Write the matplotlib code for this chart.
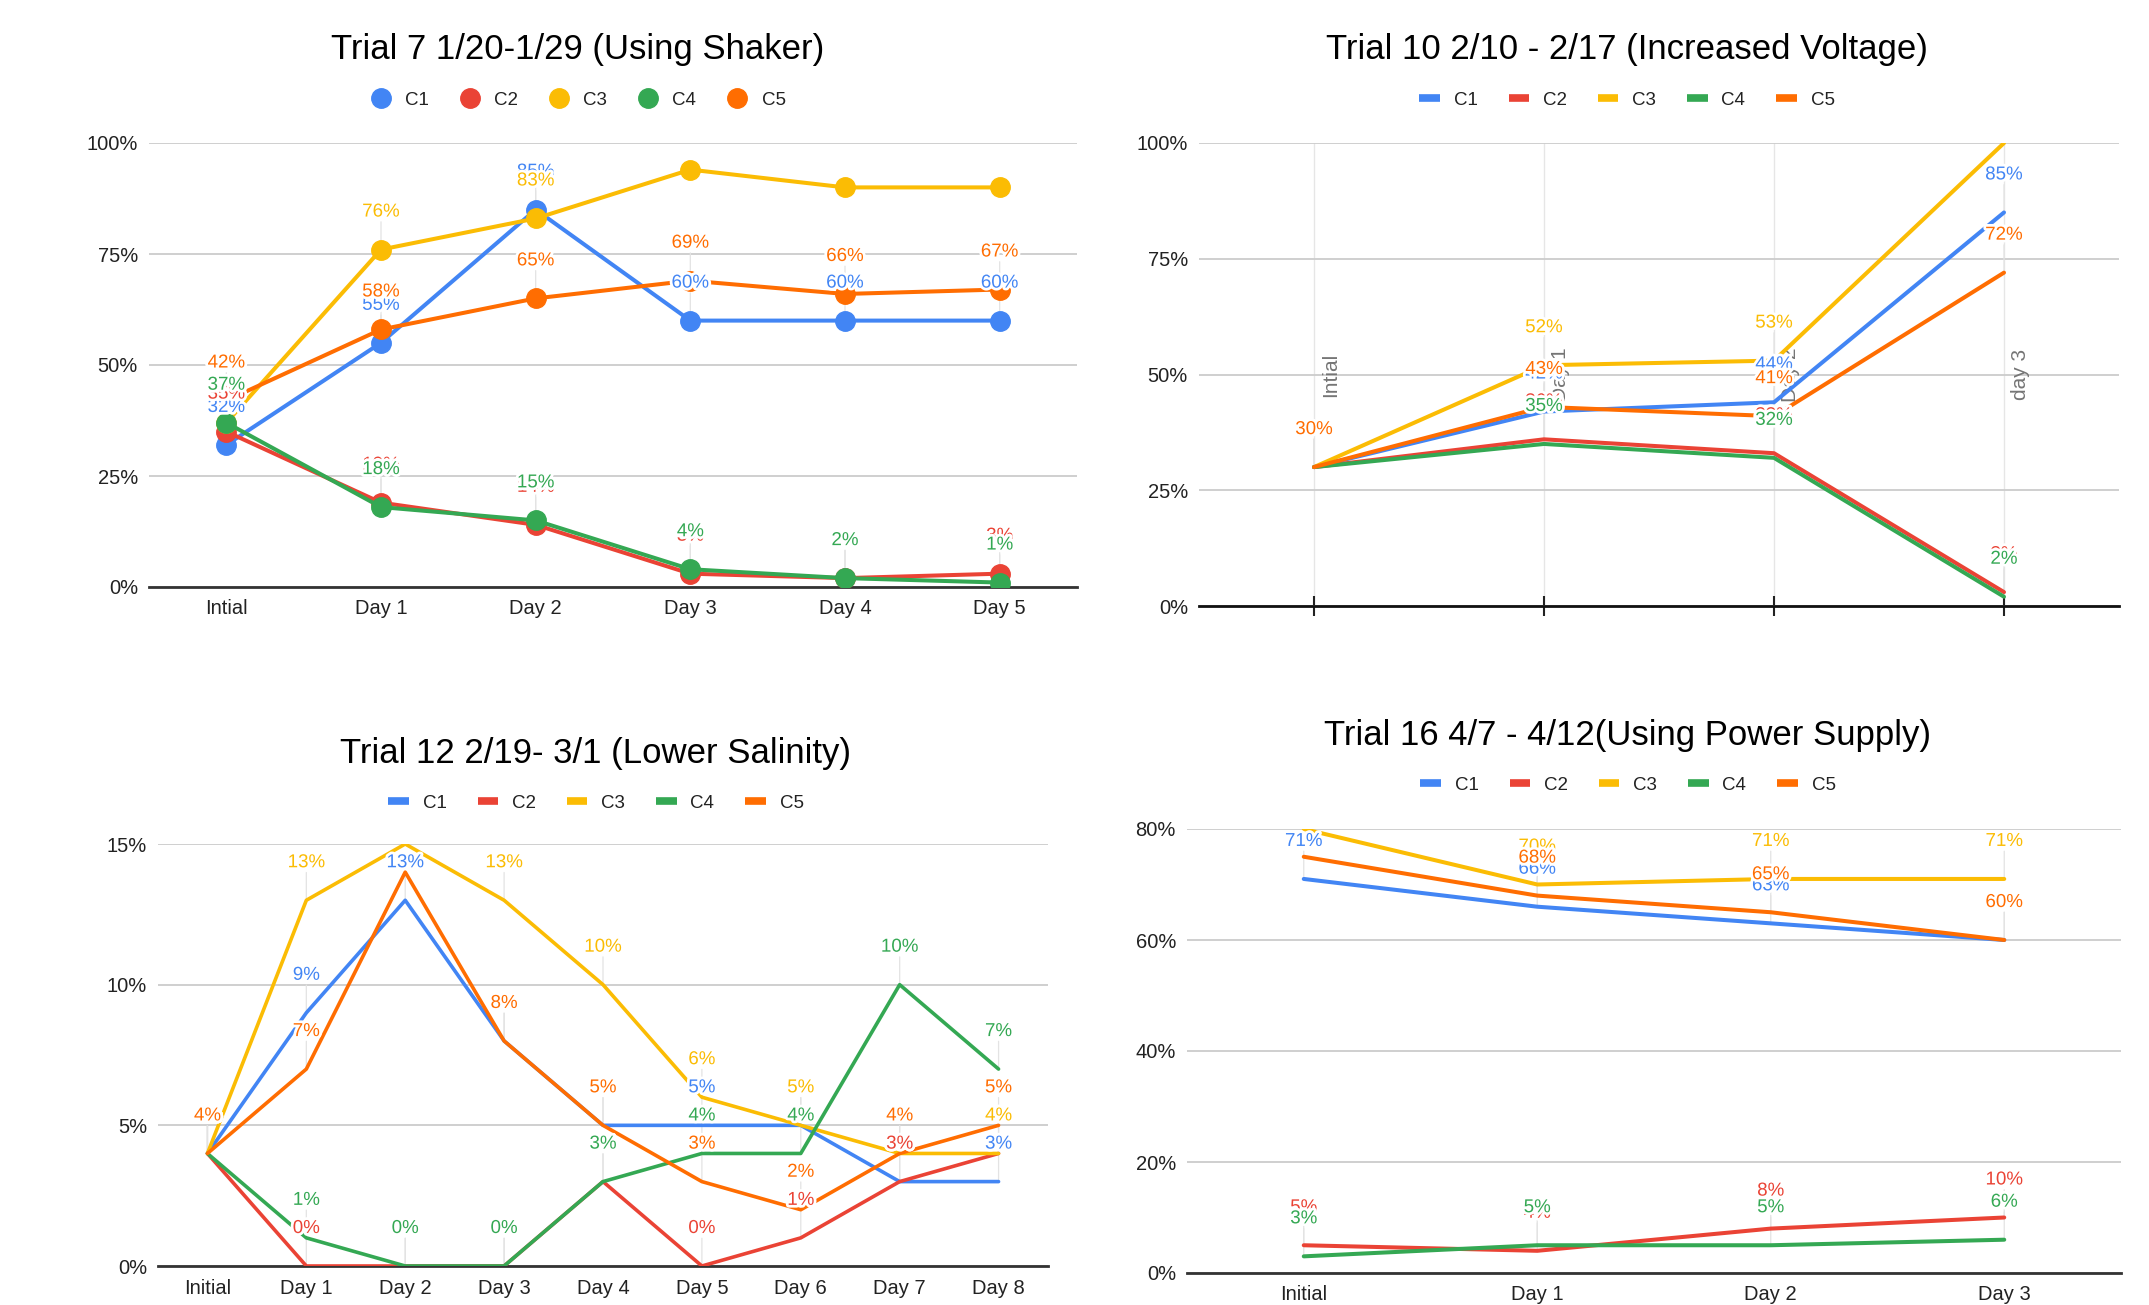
import matplotlib.pyplot as plt
import matplotlib.patheffects as pe
from matplotlib.lines import Line2D

plt.rcParams['font.family'] = ['Liberation Sans', 'DejaVu Sans']

series = ['C1', 'C2', 'C3', 'C4', 'C5']
colors = ['#4285F4', '#EA4335', '#FBBC04', '#34A853', '#FF6D01']

# Trial 7 (values in %)
t7_days = ['Intial', 'Day 1', 'Day 2', 'Day 3', 'Day 4', 'Day 5']
t7_c1 = [32, 55, 85, 60, 60, 60]
t7_c2 = [35, 19, 14, 3, 2, 3]
t7_c3 = [37, 76, 83, 94, 90, 90]
t7_c4 = [37, 18, 15, 4, 2, 1]
t7_c5 = [42, 58, 65, 69, 66, 67]

# Trial 10
t10_days = ['Intial', 'Day 1', 'Day 2', 'day 3']
t10_c1 = [30, 42, 44, 85]
t10_c2 = [30, 36, 33, 3]
t10_c3 = [30, 52, 53, 100]
t10_c4 = [30, 35, 32, 2]
t10_c5 = [30, 43, 41, 72]

# Trial 12
t12_days = ['Initial', 'Day 1', 'Day 2', 'Day 3', 'Day 4', 'Day 5', 'Day 6', 'Day 7', 'Day 8']
t12_c1 = [4, 9, 13, 8, 5, 5, 5, 3, 3]
t12_c2 = [4, 0, 0, 0, 3, 0, 1, 3, 4]
t12_c3 = [4, 13, 15, 13, 10, 6, 5, 4, 4]
t12_c4 = [4, 1, 0, 0, 3, 4, 4, 10, 7]
t12_c5 = [4, 7, 14, 8, 5, 3, 2, 4, 5]

# Trial 16
t16_days = ['Initial', 'Day 1', 'Day 2', 'Day 3']
t16_c1 = [71, 66, 63, 60]
t16_c2 = [5, 4, 8, 10]
t16_c3 = [80, 70, 71, 71]
t16_c4 = [3, 5, 5, 6]
t16_c5 = [75, 68, 65, 60]

W, H = 2149, 1305
fig = plt.figure(figsize=(W / 100, H / 100), dpi=100)


def box(l, r, t, b):
    return [l / W, 1 - b / H, (r - l) / W, (b - t) / H]


def panel(rect, days, data, ymax, yticks, markers=False, inner=False, lw=2.9):
    ax = fig.add_axes(rect)
    x = range(len(days))
    for i, (vals, c) in enumerate(zip(data, colors)):
        ax.plot(x, vals, color=c, lw=lw, zorder=3 + i * 0.1,
                marker='o' if markers else None, markersize=14,
                solid_capstyle='round')
    for vals, c in zip(data, colors):
        for j, v in enumerate(vals):
            # labels that would run past the top are dropped, as in the sheet
            if v > 0.89 * ymax:
                continue
            ax.annotate('', (j, v), xytext=(0, 20), textcoords='offset points',
                        arrowprops=dict(arrowstyle='-', color='#e3e3e3', lw=0.9,
                                        shrinkA=0, shrinkB=0), zorder=1)
            ax.annotate(f'{v}%', (j, v), xytext=(0, 27), textcoords='offset points',
                        ha='center', va='center', color=c, fontsize=13.5, zorder=6,
                        path_effects=[pe.withStroke(linewidth=4, foreground='white')])
    ax.set_xlim(-0.5, len(days) - 0.5)
    ax.set_ylim(0, ymax)
    ax.set_yticks(yticks)
    ax.set_yticklabels([f'{t}%' for t in yticks])
    ax.grid(axis='y', color='#cccccc', lw=1.3, zorder=0)
    ax.set_axisbelow(True)
    for s in ['top', 'left', 'right']:
        ax.spines[s].set_visible(False)
    ax.spines['bottom'].set_color('#333333')
    ax.spines['bottom'].set_linewidth(2)
    ax.spines['bottom'].set_zorder(2)
    ax.tick_params(axis='y', length=0, pad=8, labelsize=14.5, labelcolor='#222222')
    ax.set_xticks(list(x))
    if inner:
        ax.spines['bottom'].set_color('#111111')
        ax.set_xticklabels([])
        ax.tick_params(axis='x', direction='inout', length=14, width=1.5, color='#222222')
        ax.grid(axis='x', color='#e6e6e6', lw=1)
        for j, d in enumerate(days):
            ax.annotate(d, (j, 50), xytext=(12, 0), textcoords='offset points',
                        rotation=90, ha='center', va='center', fontsize=15,
                        color='#757575', zorder=2)
    else:
        ax.set_xticklabels(days)
        ax.tick_params(axis='x', length=0, pad=9, labelsize=14.5, labelcolor='#222222')
    return ax


def header(title, cx, ty, ly, markers=False):
    fig.text(cx / W, 1 - ty / H, title, ha='center', va='center', fontsize=25, color='#000000')
    if markers:
        handles = [Line2D([], [], ls='none', marker='o', markersize=14, color=c) for c in colors]
    else:
        handles = [Line2D([], [], lw=5.5, color=c, solid_capstyle='butt') for c in colors]
    fig.legend(handles, series, loc='center', bbox_to_anchor=(cx / W, 1 - ly / H), ncol=5,
               frameon=False, fontsize=13.5, handlelength=1.1, handletextpad=0.74,
               columnspacing=1.64, labelcolor='#222222')


panel(box(149, 1077, 143, 587), t7_days, [t7_c1, t7_c2, t7_c3, t7_c4, t7_c5],
      100, [0, 25, 50, 75, 100], markers=True)
header('Trial 7 1/20-1/29 (Using Shaker)', 578, 49, 100, markers=True)

panel(box(1199, 2119, 143, 606), t10_days, [t10_c1, t10_c2, t10_c3, t10_c4, t10_c5],
      100, [0, 25, 50, 75, 100], inner=True)
header('Trial 10 2/10 - 2/17 (Increased Voltage)', 1627, 49, 100)

panel(box(158, 1048, 844, 1266), t12_days, [t12_c1, t12_c2, t12_c3, t12_c4, t12_c5],
      15, [0, 5, 10, 15], lw=2.6)
header('Trial 12 2/19- 3/1 (Lower Salinity)', 596, 754, 803)

panel(box(1187, 2121, 829, 1273), t16_days, [t16_c1, t16_c2, t16_c3, t16_c4, t16_c5],
      80, [0, 20, 40, 60, 80])
header('Trial 16 4/7 - 4/12(Using Power Supply)', 1628, 736, 785)

fig.savefig('out.png', dpi=100, facecolor='white')
